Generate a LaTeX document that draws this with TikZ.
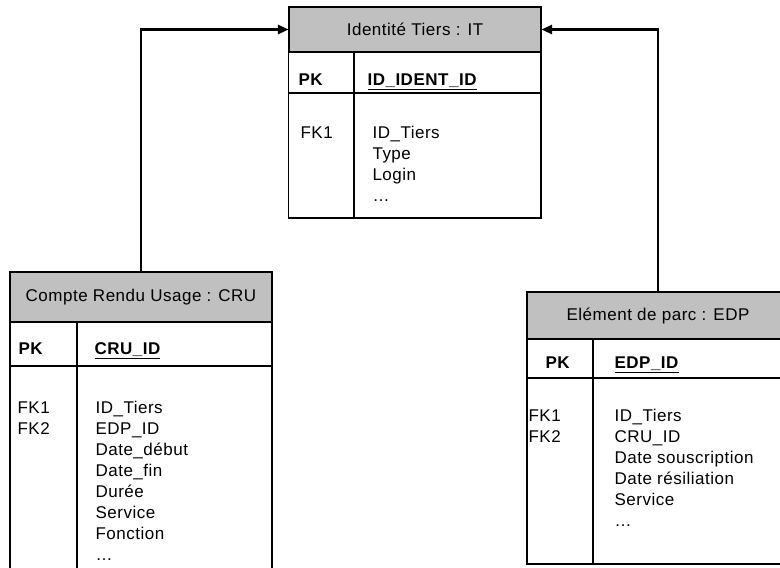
\documentclass[tikz,border=0pt]{standalone}
\usepackage{fontspec}
\setmainfont{Liberation Sans}[LetterSpace=3]
\usetikzlibrary{arrows.meta,positioning}
\definecolor{gris}{RGB}{192,192,192}

\begin{document}
\begin{tikzpicture}[x=0.75pt,y=-0.75pt,line width=0.8pt,
    every node/.style={inner sep=0pt,font=\fontsize{12.75}{15}\selectfont},
    titre/.style={draw,fill=gris,minimum height=#1},
    champ/.style={anchor=base west},
    cle/.style={champ,font=\fontsize{12.75}{15}\selectfont\bfseries},
    lien/.style={line width=1.6pt,-{Triangle[length=8pt,width=7pt]}}]
  \clip(0,0)rectangle(780,567);
  \node[titre=33.75pt,minimum width=189pt](it)at(415,29.5){Identité Tiers : IT};
  \draw(it.south west)rectangle(541,218)(289,93)--(541,93)(354,52)--(354,218);
  \node[cle](itpk)at(298,85){PK};
  \node[cle](itid)at(367,85){\underline{ID\_IDENT\_ID}};
  \node[champ]at(300,138){FK1};
  \foreach \c[count=\i from 0]in{ID\_Tiers,Type,Login,\ldots}
    \node[champ]at(372,138+21*\i){\c};

  \node[titre=37.5pt,minimum width=196.5pt](cru)at(141,297){Compte Rendu Usage : CRU};
  \draw(10,322)rectangle(272,580)(10,366)--(272,366)(77,322)--(77,580);
  \node[cle](crupk)at(18,354){PK};
  \node[cle](cruid)at(94,354){\underline{CRU\_ID}};
  \node[champ]at(17,413){FK1};
  \node[champ]at(17,434){FK2};
  \foreach \c[count=\i from 0]in{ID\_Tiers,EDP\_ID,Date\_début,Date\_fin,Durée,Service,Fonction,\ldots}
    \node[champ]at(95,413+21*\i){\c};

  \node[titre=35.25pt,minimum width=196.5pt](edp)at(658,315.5){Elément de parc : EDP};
  \draw(527,339)rectangle(789,564)(527,378)--(789,378)(593,339)--(593,564);
  \node[cle](edppk)at(545,368){PK};
  \node[cle](edpid)at(614,368){\underline{EDP\_ID}};
  \node[champ]at(528,421){FK1};
  \node[champ]at(528,442){FK2};
  \foreach \c[count=\i from 0]in{ID\_Tiers,CRU\_ID,Date souscription,Date résiliation,Service,\ldots}
    \node[champ]at(614,421+21*\i){\c};

  \draw[lien](cru.north)|-(it.west);
  \draw[lien](edp.north)|-(it.east);
\end{tikzpicture}
\end{document}
